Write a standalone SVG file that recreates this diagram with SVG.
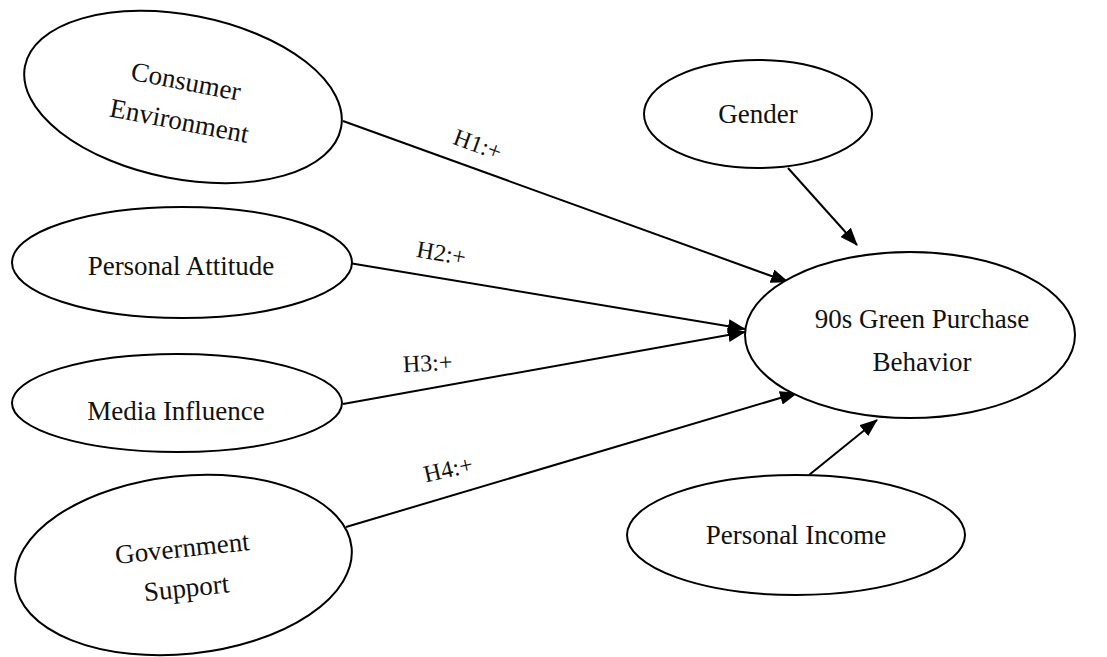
<svg xmlns="http://www.w3.org/2000/svg" width="1107" height="657" viewBox="0 0 1107 657">
<style>
  .node { fill: #ffffff; stroke: #000000; stroke-width: 2; }
  .lbl { font-family: "Liberation Serif", "Times New Roman", serif; font-size: 27px; fill: #111111; text-anchor: middle; }
  .hyp { font-family: "Liberation Serif", "Times New Roman", serif; font-size: 24px; fill: #111111; text-anchor: middle; }
  .edge { stroke: #000000; stroke-width: 2; fill: none; marker-end: url(#arrow); }
</style>
<defs>
  <marker id="arrow" markerUnits="userSpaceOnUse" markerWidth="18" markerHeight="14" refX="17" refY="7" orient="auto">
    <path d="M0,0 L18,7 L0,14 Z" fill="#000000"/>
  </marker>
</defs>
<rect width="1107" height="657" fill="#ffffff"/>

<g id="connectors">
  <line class="edge" x1="343" y1="121" x2="788" y2="282"/>
  <line class="edge" x1="343" y1="262" x2="745" y2="329"/>
  <line class="edge" x1="343" y1="404" x2="745" y2="332"/>
  <line class="edge" x1="346" y1="527" x2="797" y2="393"/>
  <line class="edge" x1="788" y1="168" x2="857" y2="245"/>
  <line class="edge" x1="809" y1="475" x2="877" y2="420"/>
  <text class="hyp" x="475" y="152" transform="rotate(20 475 152)">H1:+</text>
  <text class="hyp" x="440" y="261" transform="rotate(10 440 261)">H2:+</text>
  <text class="hyp" x="428" y="371" transform="rotate(-3 428 371)">H3:+</text>
  <text class="hyp" x="450" y="477" transform="rotate(-13 450 477)">H4:+</text>
</g>

<g id="consumer-environment" transform="rotate(11 183 97)">
  <ellipse class="node" cx="183" cy="97" rx="161" ry="82"/>
  <text class="lbl" x="183" y="90">Consumer</text>
  <text class="lbl" x="184" y="130">Environment</text>
</g>

<g id="personal-attitude">
  <ellipse class="node" cx="182" cy="262.5" rx="170" ry="55.5"/>
  <text class="lbl" x="181" y="275">Personal Attitude</text>
</g>

<g id="media-influence">
  <ellipse class="node" cx="177" cy="403" rx="165" ry="49"/>
  <text class="lbl" x="176" y="420">Media Influence</text>
</g>

<g id="government-support" transform="rotate(-6 183.5 565)">
  <ellipse class="node" cx="183.5" cy="565" rx="169" ry="89"/>
  <text class="lbl" x="184" y="557">Government</text>
  <text class="lbl" x="184" y="597">Support</text>
</g>

<g id="gender">
  <ellipse class="node" cx="758" cy="114" rx="114" ry="54"/>
  <text class="lbl" x="758" y="123">Gender</text>
</g>

<g id="green-purchase-behavior">
  <ellipse class="node" cx="910" cy="335" rx="165" ry="83"/>
  <text class="lbl" x="922" y="328">90s Green Purchase</text>
  <text class="lbl" x="922" y="371">Behavior</text>
</g>

<g id="personal-income">
  <ellipse class="node" cx="796" cy="535" rx="169" ry="60"/>
  <text class="lbl" x="796" y="544">Personal Income</text>
</g>
</svg>
